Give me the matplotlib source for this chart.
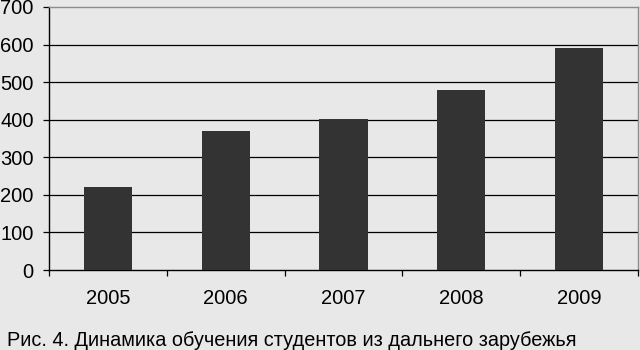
import matplotlib
matplotlib.use('Agg')
import matplotlib.pyplot as plt
import numpy as np

years = ['2005', '2006', '2007', '2008', '2009']
students = [221, 370, 403, 479, 591]
caption = 'Рис. 4. Динамика обучения студентов из дальнего зарубежья'

plt.rcParams['font.family'] = ['Liberation Sans', 'DejaVu Sans']
bg = '#e8e8e8'

fig = plt.figure(figsize=(6.4, 3.5), dpi=100, facecolor=bg)
ax = fig.add_axes([49 / 640, 80 / 350, 589 / 640, 263 / 350], facecolor=bg)

x = np.arange(len(years))
ax.bar(x, students, width=0.41, color='#333333', zorder=3)

ax.set_xlim(-0.5, len(years) - 0.5)
ax.set_ylim(0, 700)
ax.set_yticks(range(0, 800, 100))
for v in range(100, 700, 100):
    ax.axhline(v, color='black', lw=0.9, zorder=1)

# ticks between categories, labels centred under bars
ax.set_xticks(np.arange(-0.5, len(years), 1))
ax.set_xticklabels([])
ax.set_xticks(x, minor=True)
ax.set_xticklabels(years, minor=True)
ax.tick_params(axis='x', which='major', length=4, width=0.9, color='black')
ax.tick_params(axis='x', which='minor', length=0, pad=14, labelsize=14.5)
ax.tick_params(axis='y', length=4, width=0.9, color='black', pad=7, labelsize=14.5)

for s in ['left', 'bottom']:
    ax.spines[s].set_color('black')
    ax.spines[s].set_linewidth(1.0)
for s in ['top', 'right']:
    ax.spines[s].set_color('#8c8c8c')
    ax.spines[s].set_linewidth(1.0)

fig.text(7 / 640, 1 - 346 / 350, caption, fontsize=14.3, ha='left', va='baseline')

fig.savefig('out.png', dpi=100, facecolor=bg)
